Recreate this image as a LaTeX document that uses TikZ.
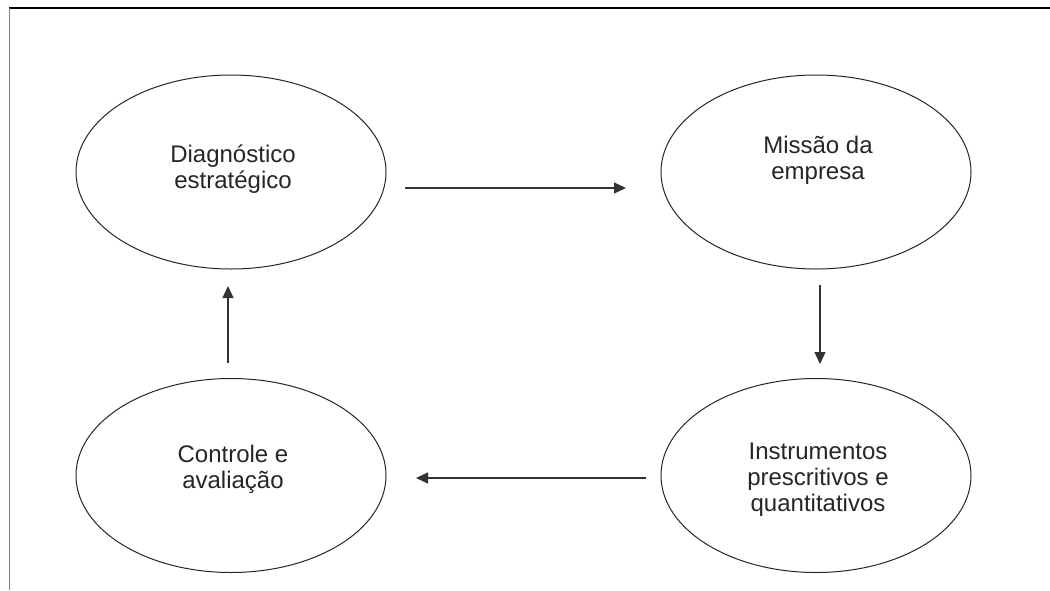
\documentclass[tikz,border=0pt]{standalone}
\usepackage{fontspec}
\setmainfont{Liberation Sans}
\usetikzlibrary{shapes.geometric,arrows.meta}
\begin{document}
\begin{tikzpicture}[x=1pt,y=-1pt,
 ell/.style={ellipse,draw=black!85,line width=1pt,minimum width=310pt,minimum height=194pt,inner sep=0pt},
 lbl/.style={align=center,anchor=base,font=\fontsize{24}{26}\selectfont,text=black!85,inner sep=0pt},
 conn/.style={draw=black!80,line width=1.2pt,-{Triangle[length=12pt,width=11pt]}}]
\useasboundingbox (0,0) rectangle (1050,590);
\fill[white] (0,0) rectangle (1050,590);
\draw[black,line width=1.3pt] (9,8) -- (1050,8);
\draw[gray,line width=1.5pt] (9.5,8) -- (9.5,590);
% ellipses
\node[ell] (e1) at (231,172) {};
\node[ell] (e2) at (816,172) {};
\node[ell] (e3) at (231,475.5) {};
\node[ell] (e4) at (816,475.5) {};
% texts (base anchor = baseline of the last line)
\node[lbl] (t1) at (233,188) {Diagnóstico\\estratégico};
\node[lbl] (t2) at (818,179) {Missão da\\empresa};
\node[lbl] (t3) at (233,488) {Controle e\\avaliação};
\node[lbl] (t4) at (818,511) {Instrumentos\\prescritivos e\\quantitativos};
% connector ends
\coordinate (a1s) at (405,188); \coordinate (a1e) at (626,188);
\coordinate (a2s) at (820,285); \coordinate (a2e) at (820,364);
\coordinate (a3s) at (646,478); \coordinate (a3e) at (416,478);
\coordinate (a4s) at (228,363); \coordinate (a4e) at (228,286);
\draw[conn] (a1s) -- (a1e);
\draw[conn] (a2s) -- (a2e);
\draw[conn] (a3s) -- (a3e);
\draw[conn] (a4s) -- (a4e);
\end{tikzpicture}
\end{document}
